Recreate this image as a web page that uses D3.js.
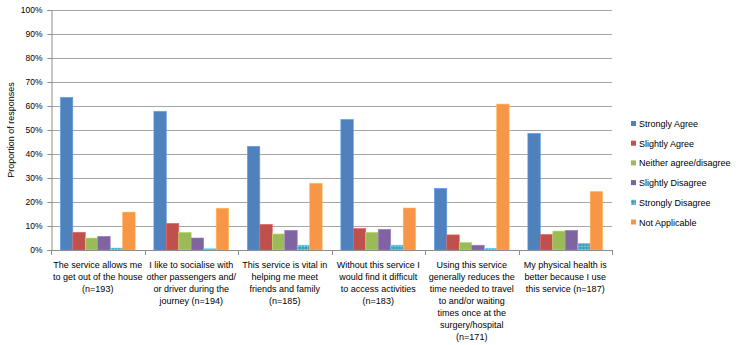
<!DOCTYPE html>
<html>
<head>
<meta charset="utf-8">
<script src="https://cdn.jsdelivr.net/npm/d3@7"></script>
<style>
  html, body { margin: 0; padding: 0; background: #fff; }
  svg { display: block; font-family: "Liberation Sans", Arial, sans-serif; }
</style>
</head>
<body>
<script>
// ---- data ----
const categories = [
  ["The service allows me", "to get out of the house", "(n=193)"],
  ["I like to socialise with", "other passengers and/", "or driver during the", "journey (n=194)"],
  ["This service is vital in", "helping me meet", "friends and family", "(n=185)"],
  ["Without this service I", "would find it difficult", "to access activities", "(n=183)"],
  ["Using this service", "generally reduces the", "time needed to travel", "to and/or waiting", "times once at the", "surgery/hospital", "(n=171)"],
  ["My physical health is", "better because I use", "this service (n=187)"]
];
const seriesNames = ["Strongly Agree", "Slightly Agree", "Neither agree/disagree", "Slightly Disagree", "Strongly Disagree", "Not Applicable"];
const stronglyAgree    = [63.6, 57.8, 43.2, 54.4, 25.7, 48.6];
const slightlyAgree    = [7.4, 11.1, 10.7, 9.0, 6.3, 6.5];
const neither          = [5.0, 7.4, 6.7, 7.4, 3.2, 7.9];
const slightlyDisagree = [5.7, 5.0, 8.2, 8.6, 2.0, 8.2];
const stronglyDisagree = [0.8, 0.5, 2.0, 2.0, 0.7, 2.8];
const notApplicable    = [15.8, 17.4, 27.8, 17.5, 60.8, 24.4];
const yTicks = [0, 10, 20, 30, 40, 50, 60, 70, 80, 90, 100];
const yTitle = "Proportion of responses";

const seriesValues = [stronglyAgree, slightlyAgree, neither, slightlyDisagree, stronglyDisagree, notApplicable];
const colors = ["#4F81BD", "#C0504D", "#9BBB59", "#8064A2", "#4BACC6", "#F79646"];

// ---- layout ----
const W = 743, H = 345;
const mLeft = 51, mRight = 612, mTop = 10, mBottom = 250;

const svg = d3.select("body").append("svg").attr("width", W).attr("height", H);

const defs = svg.append("defs");
const pat = defs.append("pattern").attr("id", "dots").attr("patternUnits", "userSpaceOnUse")
  .attr("width", 3).attr("height", 3);
pat.append("rect").attr("width", 3).attr("height", 3).attr("fill", "#4BACC6");
pat.append("rect").attr("x", 0).attr("y", 0).attr("width", 1).attr("height", 1).attr("fill", "#A8DCEB");
pat.append("rect").attr("x", 1.5).attr("y", 1.5).attr("width", 1).attr("height", 1).attr("fill", "#2F7FA0");

const x0 = d3.scaleBand().domain(d3.range(categories.length)).range([mLeft, mRight]).paddingInner(0).paddingOuter(0);
const x1 = d3.scaleBand().domain(d3.range(seriesNames.length)).range([0, x0.bandwidth()]).paddingOuter(0.75).paddingInner(0);
const y = d3.scaleLinear().domain([0, 100]).range([mBottom, mTop]);

// gridlines
svg.append("g").selectAll("line").data(yTicks).join("line")
  .attr("x1", mLeft).attr("x2", mRight)
  .attr("y1", d => Math.round(y(d)) + 0.5).attr("y2", d => Math.round(y(d)) + 0.5)
  .attr("stroke", "#A6A6A6").attr("stroke-width", 1);

// y axis
const yAxis = d3.axisLeft(y).tickValues(yTicks).tickFormat(d => d + "%").tickSize(4).tickPadding(5);
const gy = svg.append("g").attr("transform", `translate(${mLeft + 0.5},0)`).call(yAxis);
gy.select(".domain").attr("stroke", "#8C8C8C");
gy.selectAll(".tick line").attr("stroke", "#8C8C8C");
gy.selectAll(".tick text").attr("font-size", 8.5).attr("fill", "#000")
  .attr("font-family", "'Liberation Sans', Arial, sans-serif");

// y title
svg.append("text")
  .attr("transform", `translate(14,${(mTop + mBottom) / 2}) rotate(-90)`)
  .attr("text-anchor", "middle")
  .attr("font-size", 9).attr("fill", "#000")
  .text(yTitle);

// bars
const groups = svg.append("g").selectAll("g").data(categories).join("g")
  .attr("transform", (d, i) => `translate(${x0(i)},0)`);
groups.selectAll("rect").data((d, i) => seriesValues.map((s, k) => ({ k, v: s[i] }))).join("rect")
  .attr("x", d => x1(d.k))
  .attr("width", x1.bandwidth())
  .attr("y", d => y(d.v))
  .attr("height", d => mBottom - y(d.v))
  .attr("fill", d => d.k === 4 ? "url(#dots)" : colors[d.k])
  .attr("stroke", d => d3.color(colors[d.k]).brighter(0.6))
  .attr("stroke-width", 0.6);

// x axis
const xAxisLine = svg.append("g");
xAxisLine.append("line").attr("x1", mLeft).attr("x2", mRight)
  .attr("y1", mBottom + 0.5).attr("y2", mBottom + 0.5).attr("stroke", "#8C8C8C");
const bounds = d3.range(categories.length + 1).map(i => i < categories.length ? x0(i) : mRight);
xAxisLine.selectAll("line.tk").data(bounds).join("line").attr("class", "tk")
  .attr("x1", d => Math.round(d) + 0.5).attr("x2", d => Math.round(d) + 0.5)
  .attr("y1", mBottom).attr("y2", mBottom + 5).attr("stroke", "#8C8C8C");

// category labels
const lab = svg.append("g").selectAll("text").data(categories).join("text")
  .attr("text-anchor", "middle")
  .attr("font-size", 9).attr("fill", "#000")
  .attr("x", (d, i) => x0(i) + x0.bandwidth() / 2)
  .attr("y", 268);
lab.selectAll("tspan").data(d => d).join("tspan")
  .attr("x", function () { return d3.select(this.parentNode).attr("x"); })
  .attr("dy", (d, j) => j === 0 ? 0 : 12)
  .text(d => d);

// legend
const leg = svg.append("g").selectAll("g").data(seriesNames).join("g")
  .attr("transform", (d, i) => `translate(631,${124 + i * 19.7})`);
leg.append("rect").attr("x", 0).attr("y", -3).attr("width", 5).attr("height", 5)
  .attr("fill", (d, i) => i === 4 ? "url(#dots)" : colors[i]);
leg.append("text").attr("x", 8).attr("y", 3).attr("font-size", 9).attr("fill", "#000").text(d => d);
</script>
</body>
</html>
